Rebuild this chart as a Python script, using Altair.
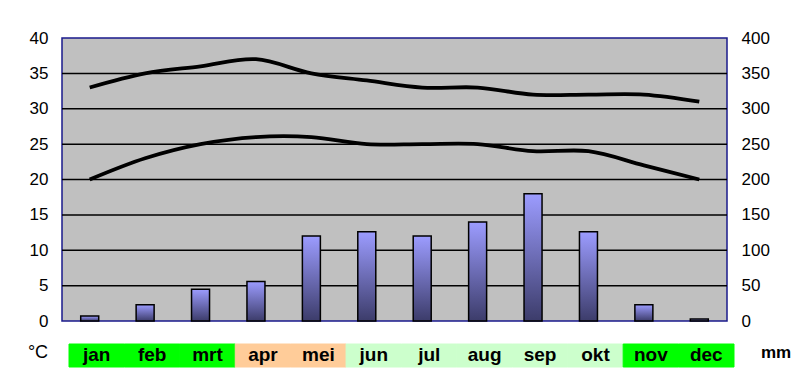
import altair as alt
import pandas as pd

months = ["jan", "feb", "mrt", "apr", "mei", "jun", "jul", "aug", "sep", "okt", "nov", "dec"]
tmax = [33, 35, 36, 37, 35, 34, 33, 33, 32, 32, 32, 31]
tmin = [20, 23, 25, 26, 26, 25, 25, 25, 24, 24, 22, 20]
rain = [7, 23, 45, 56, 120, 126, 120, 140, 180, 126, 23, 3]
season = ["A", "A", "A", "B", "B", "C", "C", "C", "C", "C", "A", "A"]
season_colors = ["#00ff00", "#ffcc99", "#ccffcc"]
temp_ticks = [0, 5, 10, 15, 20, 25, 30, 35, 40]
rain_ticks = [0, 50, 100, 150, 200, 250, 300, 350, 400]
grid_vals = [5, 10, 15, 20, 25, 30, 35]

df = pd.DataFrame({"month": months, "tmax": tmax, "tmin": tmin, "rain": rain, "season": season})
grid_df = pd.DataFrame({"g": grid_vals})

FONT = "Liberation Sans"
xband = alt.Scale(type="band", domain=months, paddingInner=0, paddingOuter=0)

grid = alt.Chart(grid_df).mark_rule(color="black", strokeWidth=1.5).encode(
    y=alt.Y("g:Q", scale=alt.Scale(domain=[0, 40]), axis=None)
)

bars = alt.Chart(df).mark_bar(
    size=18,
    stroke="black",
    strokeWidth=1.5,
    color=alt.Gradient(
        gradient="linear",
        stops=[alt.GradientStop(color="#9c9cff", offset=0), alt.GradientStop(color="#3c3c6a", offset=1)],
        x1=0, x2=0, y1=0, y2=1,
    ),
).encode(
    x=alt.X("month:N", sort=months, scale=xband, axis=None),
    y=alt.Y("rain:Q", scale=alt.Scale(domain=[0, 400]),
            axis=alt.Axis(orient="right", values=rain_ticks, title=None, grid=False, ticks=False,
                          domain=False, labelFontSize=17, labelColor="black", labelFont=FONT,
                          labelPadding=14)),
)

lines = alt.Chart(df).transform_fold(["tmax", "tmin"], as_=["key", "val"]).mark_line(
    color="black", strokeWidth=3.8, interpolate="catmull-rom"
).encode(
    x=alt.X("month:N", sort=months, scale=xband, axis=None),
    y=alt.Y("val:Q", scale=alt.Scale(domain=[0, 40]),
            axis=alt.Axis(orient="left", values=temp_ticks, title=None, grid=False, ticks=False,
                          domain=False, labelFontSize=17, labelColor="black", labelFont=FONT,
                          labelPadding=14)),
    detail="key:N",
)

main = alt.layer(grid, bars, lines).resolve_scale(y="independent")

strip_x = alt.Scale(type="band", domain=months, paddingInner=0, paddingOuter=0, range=[7, 672])
season_scale = alt.Scale(domain=["A", "B", "C"], range=season_colors)

strip = alt.Chart(df).mark_rect(strokeWidth=1).encode(
    x=alt.X("month:N", sort=months, scale=strip_x, axis=None),
    y=alt.value(306),
    y2=alt.value(329),
    color=alt.Color("season:N", scale=season_scale, legend=None),
    stroke=alt.Stroke("season:N", scale=season_scale, legend=None),
)

labels = alt.Chart(df).mark_text(font=FONT, fontSize=19, fontWeight="bold", color="black", baseline="middle").encode(
    x=alt.X("month:N", sort=months, scale=strip_x, axis=None),
    y=alt.value(317),
    text="month:N",
)
bottom = alt.layer(strip, labels)

unit_c = alt.Chart(pd.DataFrame({"t": ["°C"]})).mark_text(font=FONT, fontSize=18, color="black", baseline="middle").encode(
    text="t:N", x=alt.value(-24), y=alt.value(315)
)
unit_mm = alt.Chart(pd.DataFrame({"t": ["mm"]})).mark_text(font=FONT, fontSize=17, fontWeight="bold", color="black", baseline="middle").encode(
    text="t:N", x=alt.value(714), y=alt.value(315)
)

chart = alt.layer(main, bottom, unit_c, unit_mm).resolve_scale(x="independent", y="independent").properties(
    width=665,
    height=283,
    padding={"left": 54, "top": 30, "right": 65, "bottom": 62},
    autosize=alt.AutoSizeParams(type="none"),
    background="white",
).configure_view(fill="#c0c0c0", stroke="#1a1a8c", strokeWidth=1.5)

chart.save("out.html", embed_options={"renderer": "svg", "actions": False})
